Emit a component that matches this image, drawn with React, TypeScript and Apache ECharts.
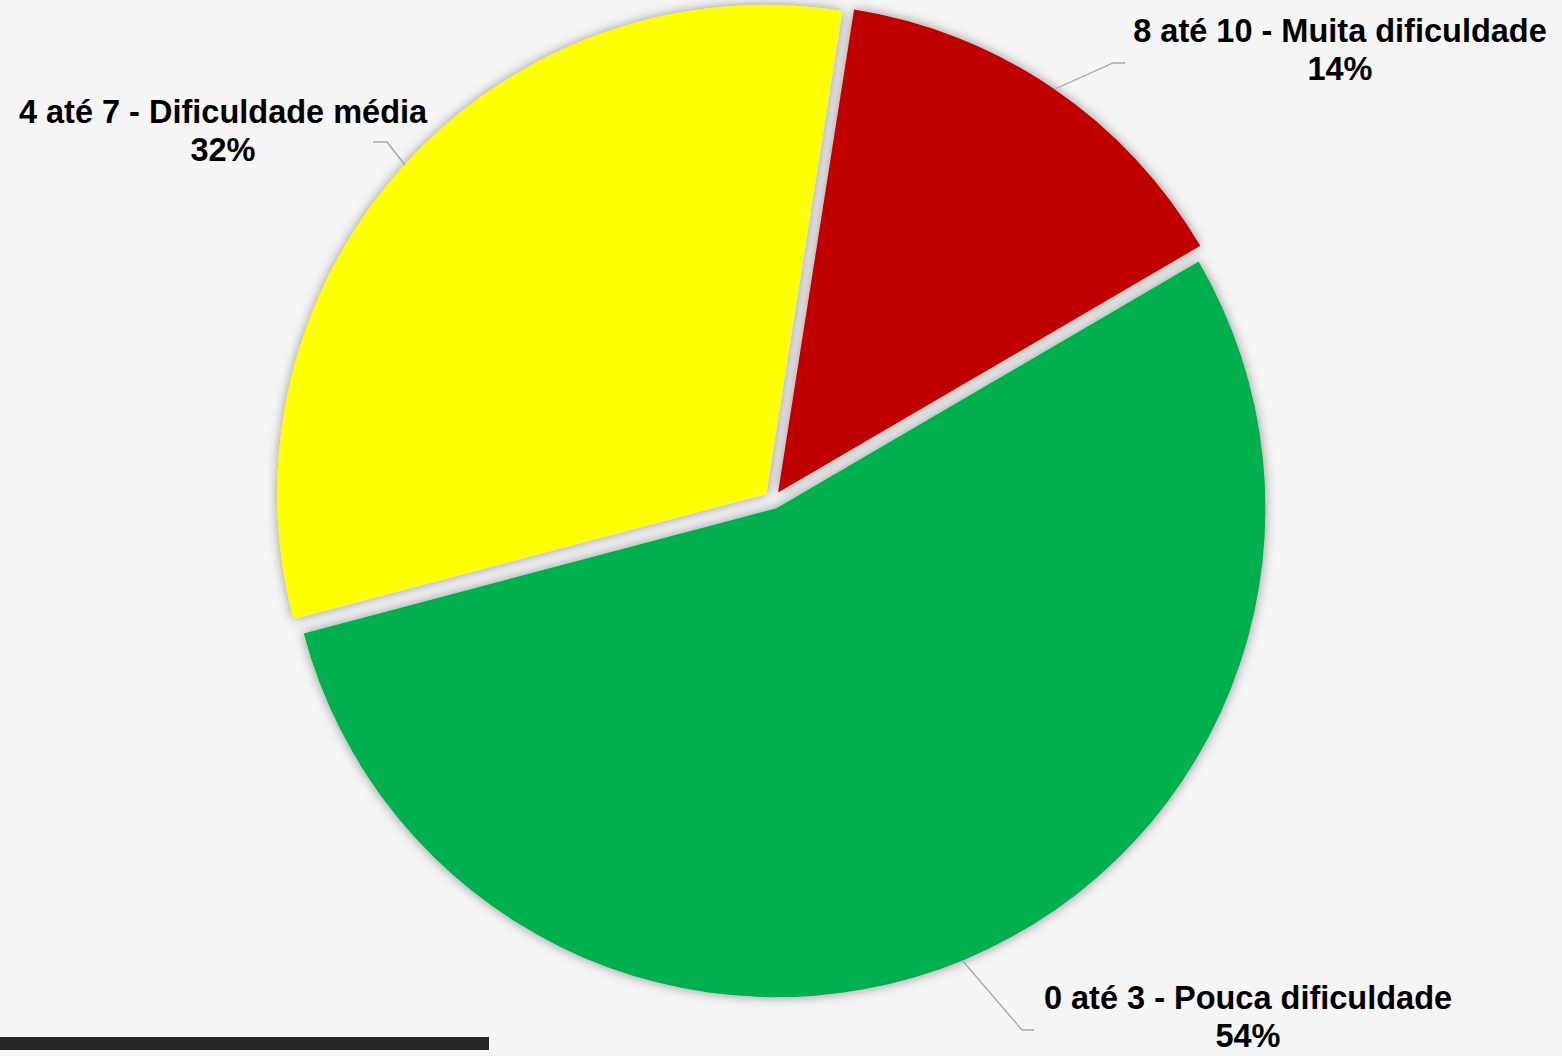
import React, { useEffect, useRef } from 'react';
import * as echarts from 'echarts';

const categories = [
  '0 até 3 - Pouca dificuldade',
  '4 até 7 - Dificuldade média',
  '8 até 10 - Muita dificuldade',
];
const values = [54.3, 31.6, 14.1];
const colors = ['#00B050', '#FFFF00', '#C00000'];

const labelPlacement = [
  { x: 1248, y: 1017, line: [[962, 960], [1022, 1030], [1034, 1030]] },
  { x: 223, y: 131, line: [[405, 165], [387, 142], [373, 142]] },
  { x: 1340, y: 50, line: [[1055, 89], [1113, 63], [1125, 63]] },
];

export default function App() {
  const ref = useRef<HTMLDivElement>(null);
  useEffect(() => {
    if (!ref.current) return;
    const chart = echarts.init(ref.current, null, { renderer: 'svg' });
    const total = values.reduce((a, b) => a + b, 0);
    const labelGraphics: any[] = [];
    categories.forEach((name, i) => {
      const p = labelPlacement[i];
      const pct = Math.round((values[i] / total) * 100);
      labelGraphics.push({
        type: 'polyline',
        shape: { points: p.line },
        style: { stroke: '#A6A6A6', lineWidth: 1.3, fill: 'none' },
        silent: true,
        z: 10,
      });
      labelGraphics.push({
        type: 'text',
        x: p.x,
        y: p.y,
        style: {
          text: `${name}\n${pct}%`,
          font: 'bold 32.5px "Liberation Sans", Arial, sans-serif',
          lineHeight: 38,
          textAlign: 'center',
          textVerticalAlign: 'middle',
          fill: '#000000',
        },
        silent: true,
        z: 11,
      });
    });
    chart.setOption({
      animation: false,
      backgroundColor: '#F5F5F5',
      series: [
        {
          type: 'pie',
          center: [773, 500],
          radius: 489,
          startAngle: 30.3,
          clockwise: true,
          selectedMode: 'multiple',
          selectedOffset: 9,
          emphasis: { disabled: true },
          itemStyle: {
            borderWidth: 0,
            shadowBlur: 12,
            shadowColor: 'rgba(0,0,0,0.4)',
          },
          label: { show: false },
          labelLine: { show: false },
          data: categories.map((name, i) => ({
            name,
            value: values[i],
            selected: true,
            itemStyle: { color: colors[i] },
          })),
        },
      ],
      graphic: [
        ...labelGraphics,
        {
          type: 'rect',
          shape: { x: 0, y: 1037, width: 489, height: 13 },
          style: { fill: '#262626' },
          silent: true,
        },
      ],
    });
    return () => chart.dispose();
  }, []);
  return (
    <div
      ref={ref}
      style={{ position: 'fixed', left: 0, top: 0, width: 1562, height: 1056 }}
    />
  );
}
